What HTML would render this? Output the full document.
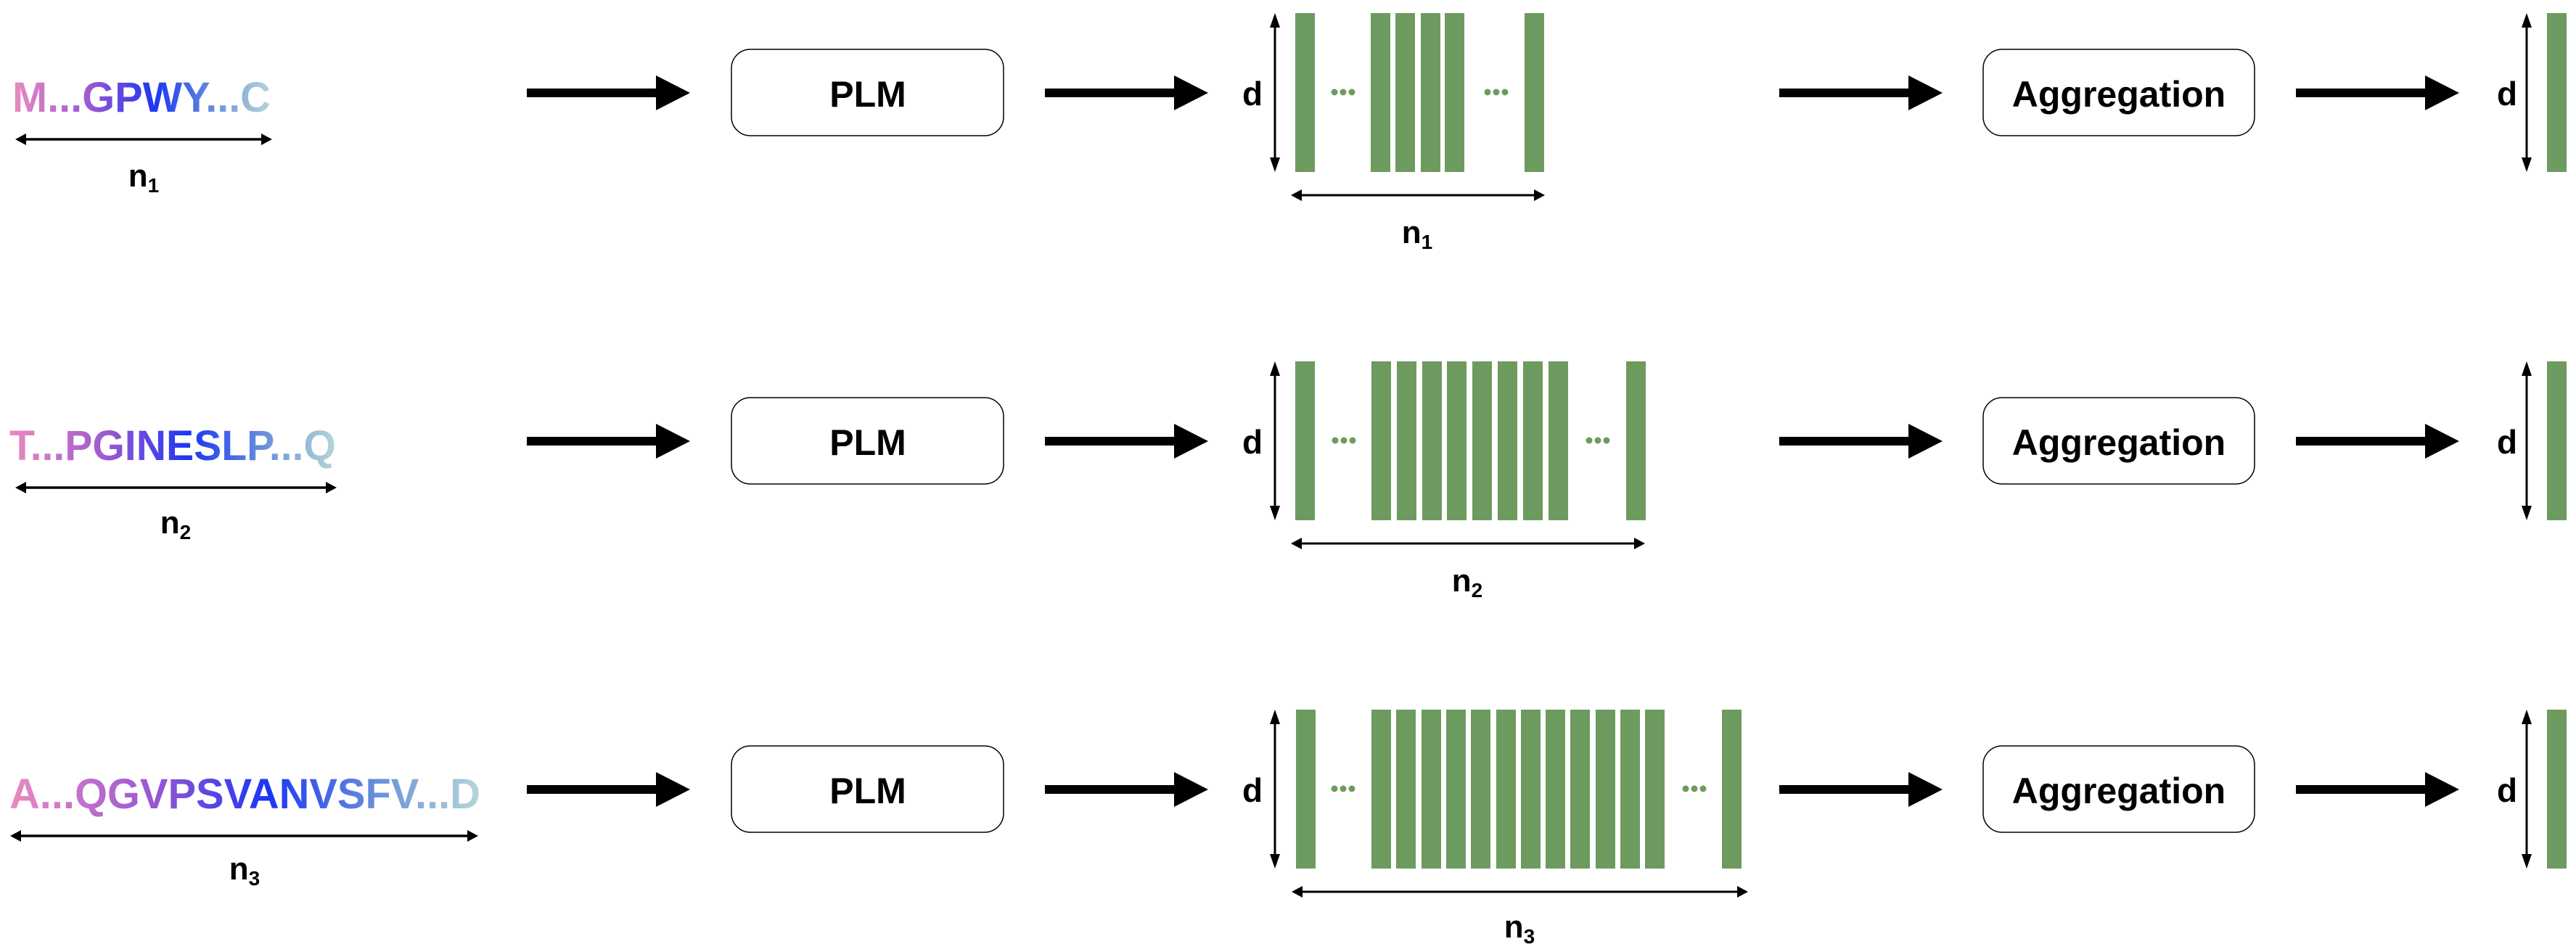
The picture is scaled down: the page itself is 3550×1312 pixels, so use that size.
<!DOCTYPE html>
<html><head><meta charset="utf-8"><style>html,body{margin:0;padding:0;background:#fff}svg{display:block}</style></head>
<body>
<svg width="3550" height="1312" viewBox="0 0 3550 1312" xmlns="http://www.w3.org/2000/svg" font-family="'Liberation Sans', sans-serif">
<defs>
<linearGradient id="g1" gradientUnits="userSpaceOnUse" x1="17" y1="0" x2="373" y2="0">
<stop offset="0" stop-color="#ea8bbf"/><stop offset="0.3" stop-color="#9a58d2"/><stop offset="0.55" stop-color="#1c36f4"/><stop offset="0.8" stop-color="#6f97d8"/><stop offset="1" stop-color="#b6d6d8"/></linearGradient>
<linearGradient id="g2" gradientUnits="userSpaceOnUse" x1="13" y1="0" x2="463" y2="0">
<stop offset="0" stop-color="#ea8bbf"/><stop offset="0.3" stop-color="#9a58d2"/><stop offset="0.55" stop-color="#1c36f4"/><stop offset="0.8" stop-color="#6f97d8"/><stop offset="1" stop-color="#b6d6d8"/></linearGradient>
<linearGradient id="g3" gradientUnits="userSpaceOnUse" x1="13" y1="0" x2="662" y2="0">
<stop offset="0" stop-color="#ea8bbf"/><stop offset="0.3" stop-color="#9a58d2"/><stop offset="0.55" stop-color="#1c36f4"/><stop offset="0.8" stop-color="#6f97d8"/><stop offset="1" stop-color="#b6d6d8"/></linearGradient>
<g id="big"><rect x="0" y="-6" width="180" height="12" fill="#000"/><polygon points="178,-24 225,0 178,24" fill="#000"/></g>
<g id="dots" fill="#6d9b5f"><circle cx="-12" cy="0" r="4.5"/><circle cx="0" cy="0" r="4.5"/><circle cx="12" cy="0" r="4.5"/></g>
<g id="row">
<use href="#big" x="726" y="128"/>
<rect x="1008" y="68" width="375" height="119" rx="26" fill="#fff" stroke="#000" stroke-width="1.5"/>
<text x="1196" y="147" font-size="50" font-weight="bold" text-anchor="middle">PLM</text>
<use href="#big" x="1440" y="128"/>
<text x="1726" y="145" font-size="46" font-weight="bold" text-anchor="middle">d</text>
<line x1="1757" y1="30" x2="1757" y2="225" stroke="#000" stroke-width="3"/>
<polygon points="1757,18 1750,38 1764,38" fill="#000"/><polygon points="1757,237 1750,217 1764,217" fill="#000"/>
<use href="#big" x="2452" y="128"/>
<rect x="2733" y="68" width="374" height="119" rx="26" fill="#fff" stroke="#000" stroke-width="1.5"/>
<text x="2920" y="147" font-size="50" font-weight="bold" text-anchor="middle">Aggregation</text>
<use href="#big" x="3164" y="128"/>
<text x="3455" y="145" font-size="46" font-weight="bold" text-anchor="middle">d</text>
<line x1="3482" y1="30" x2="3482" y2="225" stroke="#000" stroke-width="3"/>
<polygon points="3482,18 3475,38 3489,38" fill="#000"/><polygon points="3482,237 3475,217 3489,217" fill="#000"/>
<rect x="3510" y="18" width="27" height="219" fill="#6d9b5f"/>
</g>
</defs>

<!-- Row 1 -->
<use href="#row" x="0" y="0"/>
<text x="17" y="154" font-size="58" font-weight="bold" fill="url(#g1)" textLength="356" lengthAdjust="spacingAndGlyphs">M...GPWY...C</text>
<line x1="30" y1="192" x2="366" y2="192" stroke="#000" stroke-width="3.5"/>
<polygon points="21,192 36,184 36,200" fill="#000"/><polygon points="375,192 360,184 360,200" fill="#000"/>
<text x="198" y="257" font-size="44" font-weight="bold" text-anchor="middle">n<tspan font-size="28" dy="8">1</tspan></text>
<g fill="#6d9b5f"><rect x="1785" y="18" width="27" height="219"/><rect x="1889" y="18" width="27" height="219"/><rect x="1923" y="18" width="27" height="219"/><rect x="1958" y="18" width="27" height="219"/><rect x="1991" y="18" width="27" height="219"/><rect x="2101" y="18" width="27" height="219"/></g>
<use href="#dots" x="1851" y="127"/><use href="#dots" x="2062" y="127"/>
<line x1="1790" y1="269" x2="2118" y2="269" stroke="#000" stroke-width="3"/>
<polygon points="1779,269 1794,261 1794,277" fill="#000"/><polygon points="2129,269 2114,261 2114,277" fill="#000"/>
<text x="1953" y="335" font-size="44" font-weight="bold" text-anchor="middle">n<tspan font-size="28" dy="8">1</tspan></text>

<!-- Row 2 -->
<use href="#row" x="0" y="480"/>
<text x="13" y="634" font-size="58" font-weight="bold" fill="url(#g2)" textLength="450" lengthAdjust="spacingAndGlyphs">T...PGINESLP...Q</text>
<line x1="30" y1="672" x2="455" y2="672" stroke="#000" stroke-width="3.5"/>
<polygon points="21,672 36,664 36,680" fill="#000"/><polygon points="464,672 449,664 449,680" fill="#000"/>
<text x="242" y="735" font-size="44" font-weight="bold" text-anchor="middle">n<tspan font-size="28" dy="8">2</tspan></text>
<g fill="#6d9b5f"><rect x="1785" y="498" width="27" height="219"/><rect x="1890" y="498" width="27" height="219"/><rect x="1925" y="498" width="27" height="219"/><rect x="1960" y="498" width="27" height="219"/><rect x="1994" y="498" width="27" height="219"/><rect x="2029" y="498" width="27" height="219"/><rect x="2064" y="498" width="27" height="219"/><rect x="2099" y="498" width="27" height="219"/><rect x="2134" y="498" width="27" height="219"/><rect x="2241" y="498" width="27" height="219"/></g>
<use href="#dots" x="1852" y="607"/><use href="#dots" x="2202" y="607"/>
<line x1="1790" y1="749" x2="2256" y2="749" stroke="#000" stroke-width="3"/>
<polygon points="1779,749 1794,741 1794,757" fill="#000"/><polygon points="2267,749 2252,741 2252,757" fill="#000"/>
<text x="2022" y="815" font-size="44" font-weight="bold" text-anchor="middle">n<tspan font-size="28" dy="8">2</tspan></text>

<!-- Row 3 -->
<use href="#row" x="0" y="960"/>
<text x="13" y="1114" font-size="58" font-weight="bold" fill="url(#g3)" textLength="649" lengthAdjust="spacingAndGlyphs">A...QGVPSVANVSFV...D</text>
<line x1="24" y1="1152" x2="649" y2="1152" stroke="#000" stroke-width="3.5"/>
<polygon points="14,1152 29,1144 29,1160" fill="#000"/><polygon points="659,1152 644,1144 644,1160" fill="#000"/>
<text x="337" y="1212" font-size="44" font-weight="bold" text-anchor="middle">n<tspan font-size="28" dy="8">3</tspan></text>
<g fill="#6d9b5f"><rect x="1786" y="978" width="27" height="219"/><rect x="1890" y="978" width="27" height="219"/><rect x="1924" y="978" width="27" height="219"/><rect x="1959" y="978" width="27" height="219"/><rect x="1993" y="978" width="27" height="219"/><rect x="2027" y="978" width="27" height="219"/><rect x="2062" y="978" width="27" height="219"/><rect x="2096" y="978" width="27" height="219"/><rect x="2130" y="978" width="27" height="219"/><rect x="2164" y="978" width="27" height="219"/><rect x="2199" y="978" width="27" height="219"/><rect x="2233" y="978" width="27" height="219"/><rect x="2267" y="978" width="27" height="219"/><rect x="2373" y="978" width="27" height="219"/></g>
<use href="#dots" x="1851" y="1087"/><use href="#dots" x="2335" y="1087"/>
<line x1="1792" y1="1229" x2="2398" y2="1229" stroke="#000" stroke-width="3"/>
<polygon points="1780,1229 1795,1221 1795,1237" fill="#000"/><polygon points="2409,1229 2394,1221 2394,1237" fill="#000"/>
<text x="2094" y="1292" font-size="44" font-weight="bold" text-anchor="middle">n<tspan font-size="28" dy="8">3</tspan></text>
</svg>
</body></html>
